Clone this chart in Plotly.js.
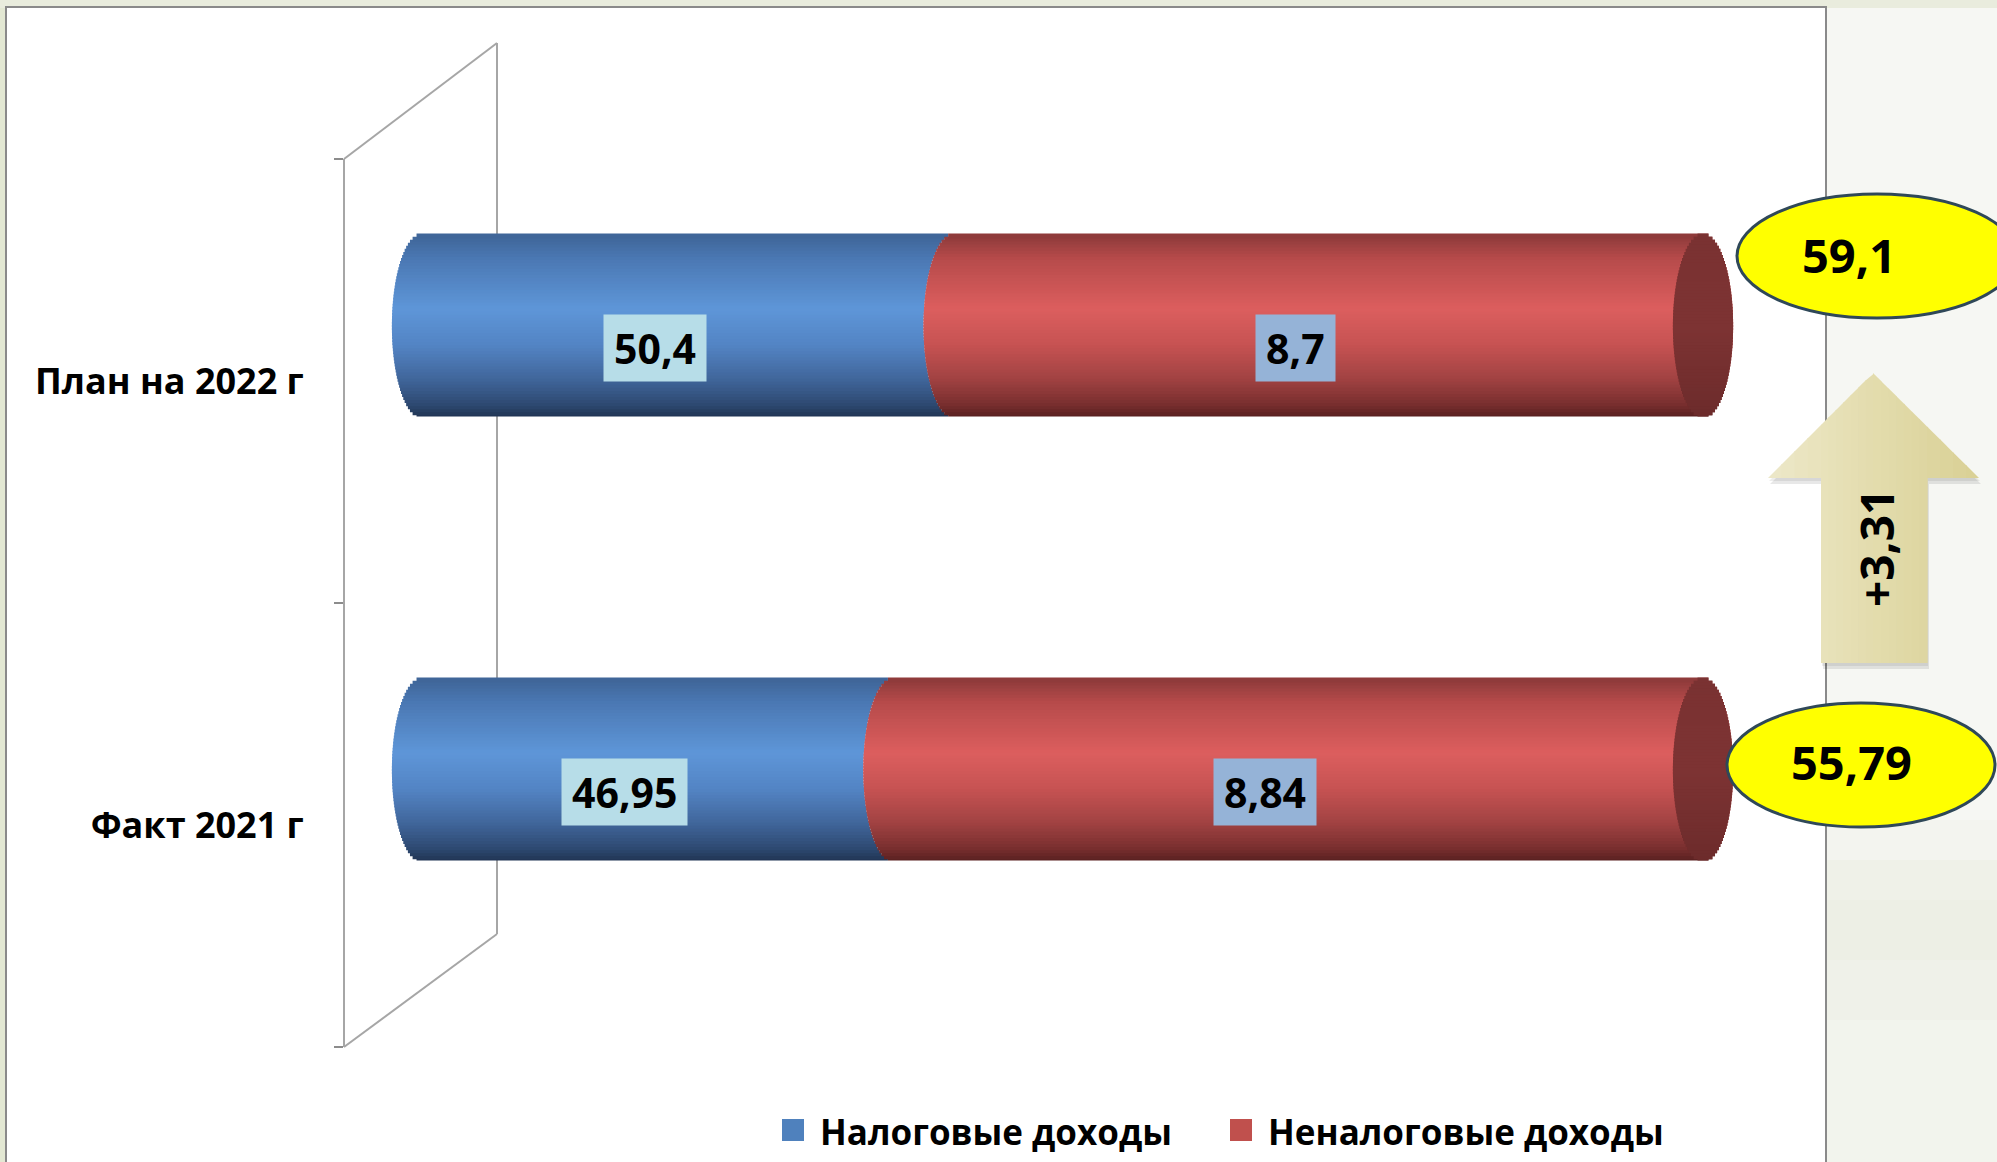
<!DOCTYPE html>
<html><head><meta charset="utf-8">
<script src="https://cdn.plot.ly/plotly-3.0.1.min.js"></script>
<style>html,body{margin:0;padding:0;background:#f3f5ee;}#chart{width:1997px;height:1162px;}</style>
</head><body><div id="chart"></div>
<script>
// ---- data ----
const categories = ['Факт 2021 г', 'План на 2022 г'];
const seriesNames = ['Налоговые доходы', 'Неналоговые доходы'];
const taxIncome = [46.95, 50.4];
const nonTaxIncome = [8.84, 8.7];
const totalIncome = [55.79, 59.1];
const growthLabel = '+3,31';
// segment lengths as drawn in the picture (share of the cylinder length, %)
const taxBarLength = [36.8, 41.5];
const nonTaxBarLength = [63.2, 58.5];
const seriesColors = ['#4f81bd', '#c0504d'];

// ---- helpers ----
const W = 1997, H = 1162;
const px = x => x / W;
const py = y => 1 - y / H;
const fmt = v => String(v).replace('.', ',');
function hexToRgb(h){ const n = parseInt(h.slice(1),16); return [(n>>16)&255,(n>>8)&255,n&255]; }
function grad(stops, f){
  for (let i=0;i<stops.length-1;i++){
    const [f0,c0] = stops[i], [f1,c1] = stops[i+1];
    if (f >= f0 && f <= f1){
      const u = (f-f0)/(f1-f0), a = hexToRgb(c0), b = hexToRgb(c1);
      return 'rgb(' + a.map((v,j)=>Math.round(v+(b[j]-v)*u)).join(',') + ')';
    }
  }
  return stops[stops.length-1][1];
}
const blueStops = [[0,'#3f6597'],[0.12,'#4a77b2'],[0.4,'#5e96d8'],[0.6,'#5384c4'],[0.78,'#41679c'],[0.92,'#2e4a73'],[1,'#1f3350']];
const redStops  = [[0,'#8c3a3a'],[0.12,'#b54a4a'],[0.4,'#dc5e5e'],[0.6,'#c65252'],[0.78,'#a24343'],[0.92,'#7a2f2f'],[1,'#561f1f']];
const capStops  = [[0,'#7a3232'],[0.5,'#7d3333'],[1,'#6c2b2b']];

// ---- cylinder bars built from horizontal strips ----
const N = 60;
const barLow = -0.08, barHigh = 0.332, capRx = 2.35;
const hS = (barHigh - barLow) / N;
const totalLength = taxBarLength.map((v,i)=>v + nonTaxBarLength[i]);
const traces = [];
const blueT = [], redT = [], capT = [];
for (let k=0;k<N;k++){
  const lo = barLow + k*hS;
  const f = 1 - (k+0.5)/N;
  const t = 2*(k+0.5)/N - 1;
  const e = capRx*Math.sqrt(Math.max(0,1-t*t));
  const ext = k>0 ? hS*0.6 : 0;
  const common = {type:'bar', orientation:'h', y:categories, offset: lo-ext, width: hS+ext,
                  hoverinfo:'skip', showlegend:false};
  blueT.push(Object.assign({}, common, {name: seriesNames[0], x: taxBarLength, base: categories.map(()=>-e),
    marker:{color: grad(blueStops,f), line:{width:0}}}));
  redT.push(Object.assign({}, common, {name: seriesNames[1], x: nonTaxBarLength.map(v=>v+2*e), base: taxBarLength.map(v=>v-e),
    marker:{color: grad(redStops,f), line:{width:0}}}));
  capT.push(Object.assign({}, common, {x: categories.map(()=>2*e), base: totalLength.map(v=>v-e),
    marker:{color: grad(capStops,f), line:{width:0}}}));
}
traces.push(...blueT, ...redT, ...capT);

// ---- shapes ----
const shapes = [];
const gray = '#a6a6a6';
// background pieces
shapes.push({type:'rect', xref:'paper', yref:'paper', x0:0, x1:1, y0:0, y1:1, layer:'below', line:{width:0}, fillcolor:'#f6f7f3'});
const band = [[820,'#f3f4ef'],[860,'#eff1e8'],[900,'#edefe5'],[960,'#eff1e9'],[1020,'#f2f4ed']];
band.forEach(([y,c],i)=>{
  const yEnd = i < band.length-1 ? band[i+1][0] : H;
  shapes.push({type:'rect', xref:'paper', yref:'paper', x0:px(1826), x1:1, y0:py(yEnd), y1:py(y), layer:'below', line:{width:0}, fillcolor:c});
});
shapes.push({type:'rect', xref:'paper', yref:'paper', x0:0, x1:px(8), y0:0, y1:1, layer:'below', line:{width:0}, fillcolor:'#e3e8d3'});
shapes.push({type:'rect', xref:'paper', yref:'paper', x0:0, x1:1, y0:py(8), y1:1, layer:'below', line:{width:0}, fillcolor:'#e9ecdd'});
// white chart box
shapes.push({type:'rect', xref:'paper', yref:'paper', x0:px(6), x1:px(1826), y0:py(1175), y1:py(7), layer:'below',
  line:{color:'#8a8a8a', width:2}, fillcolor:'#ffffff'});
// 3D back wall
const wall = [[344,159,497,43],[344,1047,497,934],[497,43,497,934]];
wall.forEach(([x0,y0,x1,y1])=>shapes.push({type:'line', xref:'paper', yref:'paper', x0:px(x0), y0:py(y0), x1:px(x1), y1:py(y1),
  layer:'below', line:{color:gray, width:2}}));

// arrow (gradient built from vertical slices)
const tipX=1873, tipY=373, headY=478, headL=1768, headR=1979, shaftL=1821, shaftR=1927, shaftB=663;
const topY = x => x <= tipX ? headY - (x-headL)*(headY-tipY)/(tipX-headL) : tipY + (x-tipX)*(headY-tipY)/(headR-tipX);
const arrowPath = (dx,dy) => 'M'+[[headL,headY],[tipX,tipY],[headR,headY],[shaftR,headY],[shaftR,shaftB],[shaftL,shaftB],[shaftL,headY]]
   .map(([x,y])=>px(x+dx)+','+py(y+dy)).join(' L') + ' Z';
shapes.push({type:'path', xref:'paper', yref:'paper', path: arrowPath(2,6), line:{width:0}, fillcolor:'rgba(0,0,0,0.09)', layer:'above'});
shapes.push({type:'path', xref:'paper', yref:'paper', path: arrowPath(1,3), line:{width:0}, fillcolor:'rgba(0,0,0,0.07)', layer:'above'});
const breaks = [];
[[headL,shaftL,4],[shaftL,tipX,7],[tipX,shaftR,7],[shaftR,headR,4]].forEach(([a,b,n])=>{ for(let i=0;i<n;i++) breaks.push([a+(b-a)*i/n, a+(b-a)*(i+1)/n]); });
breaks.forEach(([x0,x1])=>{
  const xm = (x0+x1)/2;
  const bottom = (xm > shaftL && xm < shaftR) ? shaftB : headY;
  const pts = [[x0, topY(x0)]];
  if (x0 < tipX && x1 > tipX) pts.push([tipX, tipY]);
  const xe = Math.min(x1+0.7, headR);
  pts.push([xe, topY(Math.min(xe,headR))], [xe, bottom], [x0, bottom]);
  const u = (xm-headL)/(headR-headL);
  shapes.push({type:'path', xref:'paper', yref:'paper', layer:'above', line:{width:0},
    fillcolor: grad([[0,'#ede8c9'],[0.5,'#e3dcad'],[1,'#d9d095']], u),
    path: 'M' + pts.map(([x,y])=>px(x)+','+py(y)).join(' L') + ' Z'});
});

// total ellipses
const ellipses = [[1877,256,140,62],[1861,765,134,62]];
ellipses.forEach(([cx,cy,rx,ry])=>shapes.push({type:'circle', xref:'paper', yref:'paper', layer:'above',
  x0:px(cx-rx), x1:px(cx+rx), y0:py(cy+ry), y1:py(cy-ry), fillcolor:'#ffff00', line:{color:'#2f4858', width:3}}));

// custom legend squares
const legendItems = [[782,818],[1230,1266]];
legendItems.forEach(([sx],i)=>shapes.push({type:'rect', xref:'paper', yref:'paper', layer:'above',
  x0:px(sx), x1:px(sx+22), y0:py(1141), y1:py(1119), fillcolor:seriesColors[i], line:{width:0}}));

// ---- annotations ----
const labelFont = {family:'Open Sans, sans-serif', size:41, color:'#000', weight:700};
const annotations = [];
categories.forEach((c,i)=>{
  annotations.push({xref:'x', yref:'y', x: taxBarLength[i]/2, y: c, xshift:-33, yshift:33, showarrow:false,
    text: fmt(taxIncome[i]), bgcolor:'#b7dde8', borderpad:10, height:46, font: labelFont});
  annotations.push({xref:'x', yref:'y', x: taxBarLength[i] + nonTaxBarLength[i]/2, y: c, xshift:-33, yshift:33, showarrow:false,
    text: fmt(nonTaxIncome[i]), bgcolor:'#95b3d7', borderpad:10, height:46, font: labelFont});
});
const totalPos = [[1851,762],[1849,255]];
categories.forEach((c,i)=>annotations.push({xref:'paper', yref:'paper', x:px(totalPos[i][0]), y:py(totalPos[i][1]),
  xanchor:'center', yanchor:'middle', showarrow:false, text: fmt(totalIncome[i]),
  font:{family:'Open Sans, sans-serif', size:47, color:'#000', weight:700}}));
annotations.push({xref:'paper', yref:'paper', x:px(1876), y:py(548), xanchor:'center', yanchor:'middle', showarrow:false,
  textangle:-90, text: growthLabel, font:{family:'Open Sans, sans-serif', size:46, color:'#000', weight:700}});
legendItems.forEach(([sx,tx],i)=>annotations.push({xref:'paper', yref:'paper', x:px(tx), y:py(1131), xanchor:'left', yanchor:'middle',
  showarrow:false, text: seriesNames[i], font:{family:'Open Sans, sans-serif', size:35, color:'#000', weight:700}}));

// ---- layout ----
const pxPerUnit = (1703-422)/100;
const layout = {
  width: W, height: H,
  margin:{l:0,r:0,t:0,b:0},
  paper_bgcolor:'#f3f5ee', plot_bgcolor:'rgba(0,0,0,0)',
  barmode:'overlay', showlegend:false,
  xaxis:{range:[-422/pxPerUnit, (W-422)/pxPerUnit], domain:[0,1], showgrid:false, zeroline:false,
         showticklabels:false, showline:false, ticks:'', fixedrange:true},
  yaxis:{type:'category', categoryorder:'array', categoryarray:categories, range:[-0.5,1.5],
         domain:[py(1047), py(159)], anchor:'free', position:px(344),
         showline:true, linecolor:gray, linewidth:2, showgrid:false, zeroline:false,
         ticks:'outside', tickson:'boundaries', ticklen:9, tickwidth:2, tickcolor:'#8c8c8c',
         ticklabelstandoff:32,
         tickfont:{family:'Open Sans, sans-serif', size:36, color:'#000', weight:700}, fixedrange:true},
  shapes, annotations
};
Plotly.newPlot('chart', traces, layout, {displayModeBar:false, staticPlot:true});
</script></body></html>
